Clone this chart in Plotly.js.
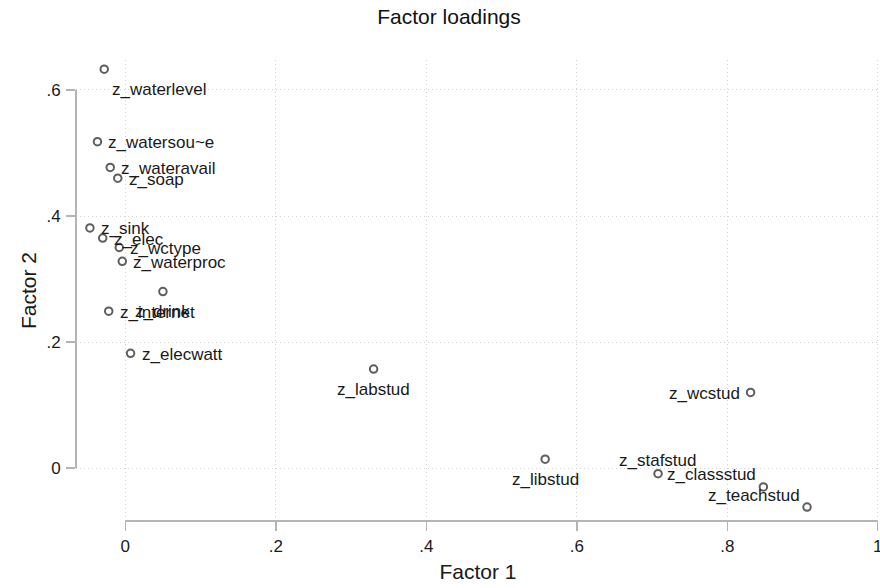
<!DOCTYPE html>
<html>
<head>
<meta charset="utf-8">
<script src="https://cdn.plot.ly/plotly-3.0.1.min.js"></script>
<style>
  html, body { margin: 0; padding: 0; background: #fff; }
  #chart { width: 880px; height: 588px; }
</style>
</head>
<body>
<div id="chart"></div>
<script>
// Loadings of each variable on the first two factors
const variables = ['z_waterlevel', 'z_watersou~e', 'z_wateravail', 'z_soap', 'z_sink',
  'z_elec', 'z_wctype', 'z_waterproc', 'z_drink', 'z_internet', 'z_elecwatt',
  'z_labstud', 'z_libstud', 'z_wcstud', 'z_stafstud', 'z_classstud', 'z_teachstud'];
const factor1 = [-0.028, -0.037, -0.020, -0.010, -0.047, -0.030, -0.008, -0.004, 0.050,
  -0.022, 0.007, 0.330, 0.558, 0.831, 0.708, 0.848, 0.906];
const factor2 = [0.633, 0.518, 0.477, 0.460, 0.381, 0.365, 0.350, 0.328, 0.280,
  0.249, 0.182, 0.157, 0.014, 0.120, -0.009, -0.030, -0.062];
// Marker-label clock positions (3 = right, 6 = below, 9 = left, ...)
const labelClock = [5, 3, 3, 3, 3, 3, 3, 3, 6, 3, 3, 6, 6, 9, 12, 11, 11];

const xTickVals = [0, 0.2, 0.4, 0.6, 0.8, 1];
const xTickText = ['0', '.2', '.4', '.6', '.8', '1'];
const yTickVals = [0, 0.2, 0.4, 0.6];
const yTickText = ['0', '.2', '.4', '.6'];

const FONT = '"Liberation Sans", Arial, Helvetica, sans-serif';
const AXIS_GRAY = '#b4b4b4';
const GRID_GRAY = '#d2d2d2';

// offsets for each clock position
const clockOffsets = {
  3:  { xanchor: 'left',   xshift: 9,  yshift: -1 },
  5:  { xanchor: 'left',   xshift: 6,  yshift: -20 },
  6:  { xanchor: 'center', xshift: 0,  yshift: -20 },
  9:  { xanchor: 'right',  xshift: -9, yshift: -1 },
  11: { xanchor: 'right',  xshift: -5, yshift: 12 },
  12: { xanchor: 'center', xshift: 0,  yshift: 13 }
};

const labelAnnotations = variables.map((name, i) => {
  const o = clockOffsets[labelClock[i]];
  return {
    x: factor1[i], y: factor2[i], xref: 'x', yref: 'y',
    text: name, showarrow: false,
    xanchor: o.xanchor, yanchor: 'middle',
    xshift: o.xshift, yshift: o.yshift,
    font: { family: FONT, size: 17, color: '#1a1a1a' }
  };
});

const trace = {
  type: 'scatter',
  mode: 'markers',
  x: factor1,
  y: factor2,
  marker: {
    symbol: 'circle',
    size: 7.5,
    color: 'rgba(0,0,0,0)',
    line: { color: '#5e5e5e', width: 2 }
  },
  hoverinfo: 'skip',
  cliponaxis: false
};

// axis lines span only the labelled tick range
const axisShapes = [
  { type: 'line', xref: 'paper', yref: 'y', x0: 0, x1: 0,
    y0: Math.min(...yTickVals), y1: Math.max(...yTickVals),
    line: { color: AXIS_GRAY, width: 2 } },
  { type: 'line', xref: 'x', yref: 'paper', y0: 0, y1: 0,
    x0: Math.min(...xTickVals), x1: Math.max(...xTickVals),
    line: { color: AXIS_GRAY, width: 2 } }
];

const layout = {
  width: 880,
  height: 588,
  paper_bgcolor: '#ffffff',
  plot_bgcolor: '#ffffff',
  margin: { l: 76, r: 0, t: 60, b: 67 },
  showlegend: false,
  font: { family: FONT, size: 17, color: '#1a1a1a' },
  title: {
    text: 'Factor loadings',
    font: { family: FONT, size: 21, color: '#111111' },
    xref: 'container', x: 449 / 880, xanchor: 'center',
    yref: 'container', y: 1 - 17 / 588, yanchor: 'middle'
  },
  xaxis: {
    range: [-0.0655, 1.003],
    tickvals: xTickVals,
    ticktext: xTickText,
    ticks: 'outside', ticklen: 9, tickwidth: 1.5, tickcolor: AXIS_GRAY,
    ticklabelstandoff: 1,
    ticklabeloverflow: 'allow',
    tickfont: { family: FONT, size: 17, color: '#1a1a1a' },
    showline: false, zeroline: false,
    showgrid: true, gridcolor: GRID_GRAY, griddash: '1px,3px', gridwidth: 1,
    title: { text: 'Factor 1', font: { family: FONT, size: 21, color: '#1a1a1a' }, standoff: 8 }
  },
  yaxis: {
    range: [-0.0841, 0.6476],
    tickvals: yTickVals,
    ticktext: yTickText,
    ticks: 'outside', ticklen: 9, tickwidth: 1.5, tickcolor: AXIS_GRAY,
    ticklabelstandoff: 2,
    tickfont: { family: FONT, size: 17, color: '#1a1a1a' },
    showline: false, zeroline: false,
    showgrid: true, gridcolor: GRID_GRAY, griddash: '1px,3px', gridwidth: 1,
    title: { text: 'Factor 2', font: { family: FONT, size: 21, color: '#1a1a1a' }, standoff: 4 }
  },
  shapes: axisShapes,
  annotations: labelAnnotations
};

Plotly.newPlot('chart', [trace], layout, { displayModeBar: false, staticPlot: true });
</script>
</body>
</html>
